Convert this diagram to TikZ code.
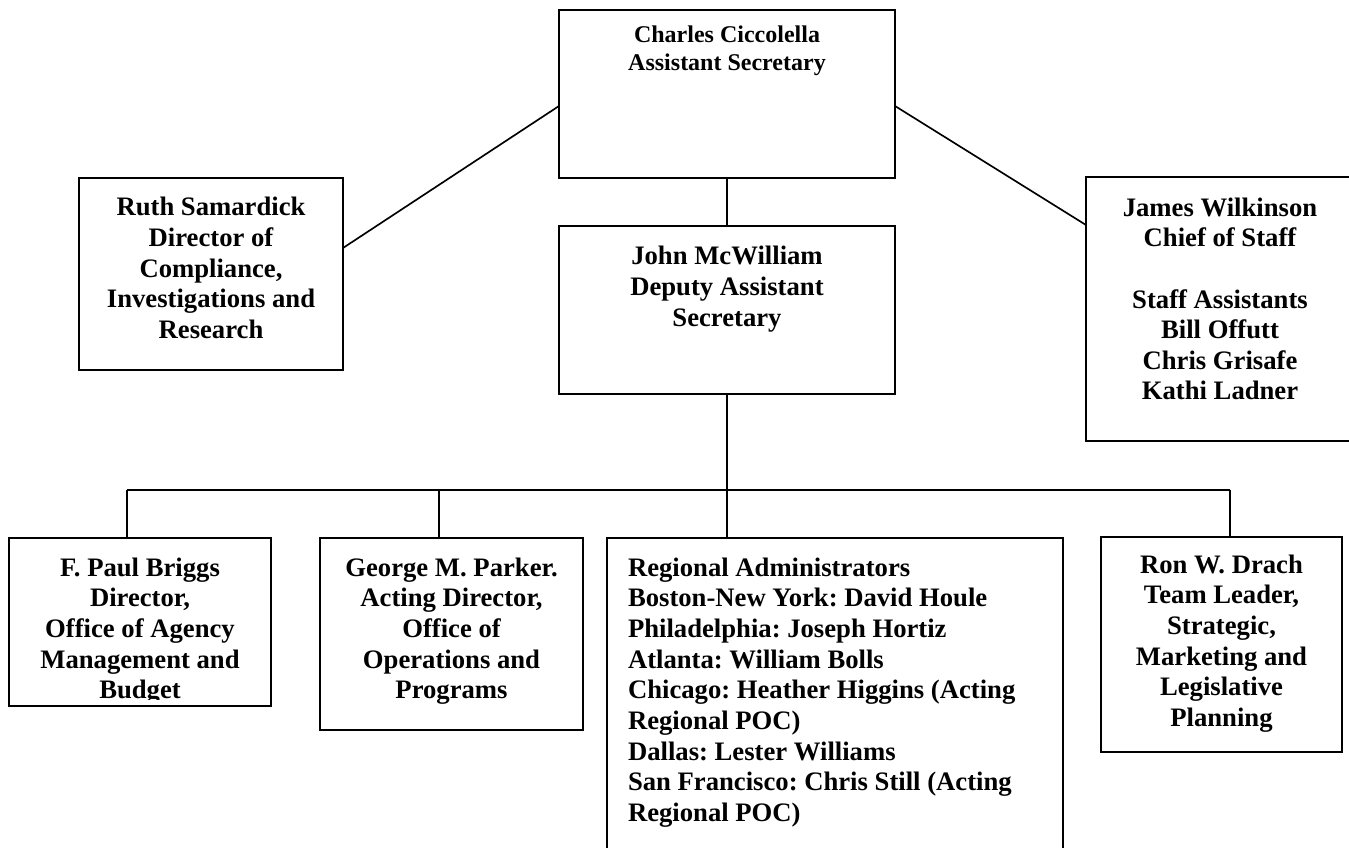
\documentclass[tikz,border=0pt]{standalone}
\usepackage{fontspec}
\setmainfont{Liberation Serif}
\usetikzlibrary{calc}
\frenchspacing
\begin{document}
\begin{tikzpicture}[x=0.75pt,y=-0.75pt,
  boxst/.style={draw=black, line width=1.5pt, inner sep=0pt, outer sep=0pt, rectangle},
  conn/.style={draw=black, line width=1.25pt},
  bigtxt/.style={inner sep=0pt, outer sep=0pt, align=center, anchor=north,
    font=\fontsize{20}{23}\selectfont\bfseries},
  toptxt/.style={inner sep=0pt, outer sep=0pt, align=center, anchor=north,
    font=\fontsize{18}{20.3}\selectfont\bfseries}]
\newcommand\stA{\rule{0pt}{15pt}}
\newcommand\stB{\rule{0pt}{13.5pt}}
\useasboundingbox (0,0) rectangle (1349,848);
\fill[white] (0,0) rectangle (1349,848);
\clip (0,0) rectangle (1349,848);

% boxes
\node[boxst, minimum width=336*0.75pt, minimum height=168*0.75pt] (charles) at (727,94) {};
\node[boxst, minimum width=264*0.75pt, minimum height=192*0.75pt] (ruth) at (211,274) {};
\node[boxst, minimum width=336*0.75pt, minimum height=168*0.75pt] (john) at (727,310) {};
\node[boxst, minimum width=268*0.75pt, minimum height=264*0.75pt] (james) at (1220,309) {};
\node[boxst, minimum width=262.4*0.75pt, minimum height=168*0.75pt] (fpaul) at (139.8,622) {};
\node[boxst, minimum width=263*0.75pt, minimum height=192*0.75pt] (george) at (451.5,634) {};
\node[boxst, minimum width=456*0.75pt, minimum height=332*0.75pt] (regional) at (835,704) {};
\node[boxst, minimum width=241*0.75pt, minimum height=215*0.75pt] (ron) at (1221.5,644.5) {};

% texts
\node[toptxt] (charlestxt) at (727,25) {\stB Charles Ciccolella\\Assistant Secretary};
\node[bigtxt] (ruthtxt) at (211,196) {\stA Ruth Samardick\\Director of\\Compliance,\\Investigations and\\Research};
\node[bigtxt] (johntxt) at (727,245) {\stA John McWilliam\\Deputy Assistant\\Secretary};
\node[bigtxt] (jamestxt) at (1220,196) {\stA James Wilkinson\\Chief of Staff\\\mbox{}\\Staff Assistants\\Bill Offutt\\Chris Grisafe\\Kathi Ladner};
\begin{scope}
  \clip (fpaul.north west) rectangle (271,699);
  \node[bigtxt] (fpaultxt) at (140,556) {\stA F. Paul Briggs\\Director,\\Office of Agency\\Management and\\Budget};
\end{scope}
\node[bigtxt] (georgetxt) at (451.5,556) {\stA George M. Parker.\\Acting Director,\\Office of\\Operations and\\Programs};
\node[bigtxt, align=left, anchor=north west] (regionaltxt) at (628,556) {\stA Regional Administrators\\Boston-New York: David Houle\\Philadelphia: Joseph Hortiz\\Atlanta: William Bolls\\Chicago: Heather Higgins (Acting\\Regional POC)\\Dallas: Lester Williams\\San Francisco: Chris Still (Acting\\Regional POC)};
\node[bigtxt] (rontxt) at (1221.5,553) {\stA Ron W. Drach\\Team Leader,\\Strategic,\\Marketing and\\Legislative\\Planning};

% connectors
\draw[conn] ($(ruth.north east)+(0,70)$) -- ($(charles.north west)+(0,96)$);
\draw[conn] ($(charles.north east)+(0,96)$) -- ($(james.north west)+(0,48)$);
\draw[conn] (charles.south) -- (john.north);
\draw[conn] (john.south) -- (regional.north -| john.south);
\coordinate (busl) at (127,490);
\coordinate (busg) at (439,490);
\coordinate (busr) at (1230,490);
\draw[conn] (busl) -- (busr);
\draw[conn] (busl) -- (busl |- fpaul.north);
\draw[conn] (busg) -- (busg |- george.north);
\draw[conn] (busr) -- (busr |- ron.north);
\end{tikzpicture}
\end{document}
